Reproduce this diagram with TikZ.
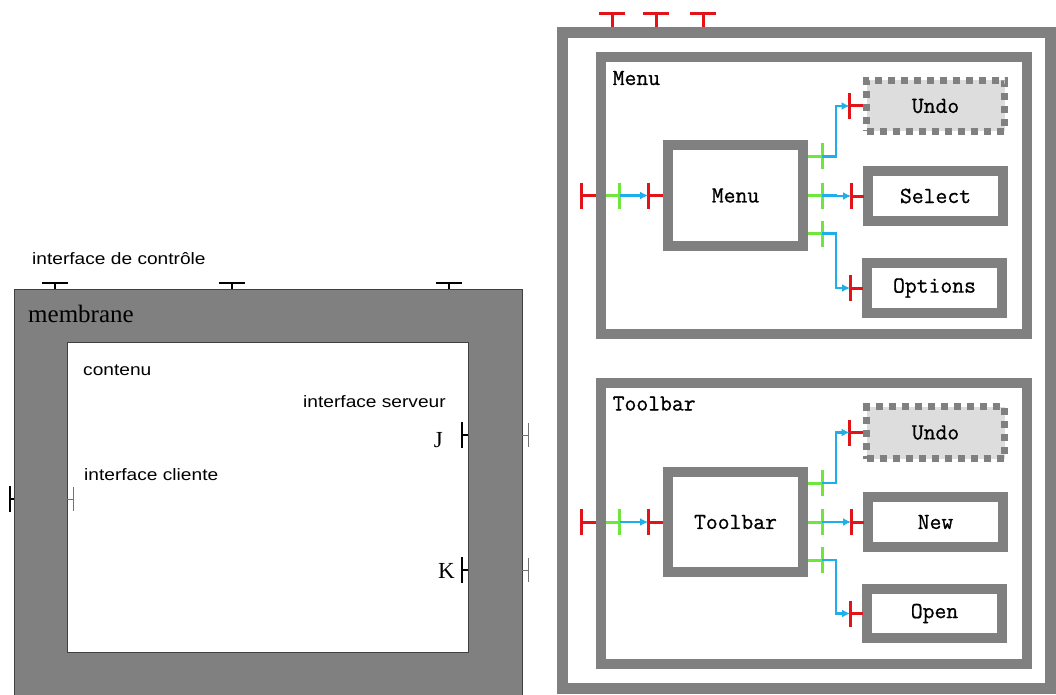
\documentclass[tikz,border=0pt]{standalone}
\usepackage{fontspec}
\setmainfont{Liberation Serif}
\setmonofont[FakeBold=0.8]{Latin Modern Mono}
\newfontfamily\annotfont[FakeStretch=1.16]{Liberation Sans}
\usetikzlibrary{arrows.meta,positioning,calc}
\definecolor{framegray}{RGB}{128,128,128}
\definecolor{undogray}{RGB}{221,221,221}
\definecolor{portred}{RGB}{225,20,25}
\definecolor{portgreen}{RGB}{110,230,60}
\definecolor{bindblue}{RGB}{30,175,235}

\begin{document}
\begin{tikzpicture}[
        x=1pt, y=-1pt,
        annot/.style={font=\annotfont\fontsize{16.5}{18}\selectfont, anchor=base west, inner sep=0pt},
        portname/.style={font=\fontsize{23}{25}\selectfont, anchor=base east, inner sep=0pt},
        panelname/.style={font=\ttfamily\fontsize{23}{25}\selectfont, anchor=base west, inner sep=0pt},
        membrane/.style={draw=black!75, line width=1pt, fill=framegray, outer sep=0pt, inner sep=0pt},
        content/.style={draw=black!75, line width=1pt, fill=white, outer sep=0pt, inner sep=0pt},
        frame/.style={draw=framegray, line width=11pt, outer sep=0pt, inner sep=0pt},
        panel/.style={draw=framegray, line width=10pt, fill=white, outer sep=0pt, inner sep=0pt},
        comp/.style={
            draw=framegray, line width=10pt, fill=white,
            minimum width=135pt, minimum height=50pt,
            outer sep=0pt, inner sep=0pt,
            font=\ttfamily\fontsize{23}{25}\selectfont
        },
        optcomp/.style={comp, fill=undogray, line width=7pt, dash pattern=on 7pt off 6pt,
            minimum width=138pt},
        cport/.style={draw=black, line width=1.6pt},
        iport/.style={draw=black!55, line width=0.9pt},
        rport/.style={draw=portred, line width=3pt},
        gport/.style={draw=portgreen, line width=3pt},
        binding/.style={draw=bindblue, line width=2.5pt, -{Latex[length=8pt,width=8pt]}}
    ]
    \useasboundingbox (0,0) rectangle (1056,695);

    % Composite on the left: membrane and content
    \node[membrane, minimum width=508pt, minimum height=411pt] (memb) at (268,494.5) {};
    \node[content, minimum width=401pt, minimum height=310pt] (cont) at (267.5,497) {};

    \node[annot] (ctrllabel) at (32,264) {interface de contrôle};
    \node[font=\fontsize{25}{27}\selectfont, anchor=base west, inner sep=0pt] (memblabel) at (28,322) {membrane};
    \node[annot] (contlabel) at (83,375) {contenu};
    \node[annot] (srvlabel) at (303,407) {interface serveur};
    \node[annot] (clilabel) at (84,480) {interface cliente};
    \node[portname] (jlabel) at (443,447) {J};
    \node[portname] (klabel) at (455,578) {K};

    % control interfaces
    \foreach \dx in {41,218,435}
        \draw[cport] ($(memb.north west)+(\dx,0)$) -- ++(0,-6) +(-13,0) -- +(13,0);

    % client interface
    \draw[cport] ($(memb.west)+(0,4.5)$) -- ++(-4,0) +(0,-13) -- +(0,13);
    \draw[iport] ($(cont.west)+(0,2)$) -- ++(6,0) +(0,-12) -- +(0,12);

    % server interfaces J and K
    \foreach \py in {435,570} {
        \draw[cport] (cont.east |- 0,\py) -- ++(-6,0) +(0,-13) -- +(0,13);
        \draw[iport] (memb.east |- 0,\py) -- ++(6,0) +(0,-12) -- +(0,12);
    }

    % Composite on the right
    \node[frame, minimum width=488pt, minimum height=656pt] (outer) at (806.5,360.5) {};
    \foreach \dx in {49.5,93.5,140.5}
        \draw[rport] ($(outer.north west)+(\dx,-5.5)$) -- ++(0,-13) +(-13,0) -- +(13,0);

    \node[panel, minimum width=426.5pt, minimum height=276.5pt] (mpanel) at (813.75,195.75) {};
    \node[panel, minimum width=426.5pt, minimum height=281pt] (tpanel) at (813.75,523.5) {};
    \node[panelname] (mlabel) at ($(mpanel.north west)+(12,27.5)$) {Menu};
    \node[panelname] (tlabel) at ($(tpanel.north west)+(12,27.5)$) {Toolbar};

    \node[comp, minimum height=101pt] (mbox) at (735.5,195.5) {Menu};
    \node[comp, minimum height=100pt] (tbox) at (735.5,522) {Toolbar};

    \node[optcomp, minimum height=51pt] (mundo) at (935.5,106) {Undo};
    \node[comp] (select) at (935.5,196) {Select};
    \node[comp] (options) at (934.5,288) {Options};

    \node[optcomp, minimum height=52pt] (tundo) at (935.5,432.5) {Undo};
    \node[comp] (new) at (935.5,522) {New};
    \node[comp, minimum height=49pt] (open) at (934.5,613.5) {Open};

    % exported interface -> inner component
    \foreach \pn/\bx in {mpanel/mbox, tpanel/tbox} {
        \path (\bx.west -| \pn.west) coordinate (pw);
        \draw[rport] ($(pw)+(-5,0)$) -- ++(-14.5,0) +(0,-13) -- +(0,13);
        \draw[gport] ($(pw)+(5,0)$) -- ++(14,0) coordinate (g) +(0,-13) -- +(0,13);
        \draw[rport] ($(\bx.west)+(-5,0)$) -- ++(-15,0) coordinate (r) +(0,-13) -- +(0,13);
        \draw[binding] (g) -- (r);
    }

    % inner component -> sub-components
    \foreach \bx/\ta/\tb/\tc in {mbox/mundo/select/options, tbox/tundo/new/open} {
        \foreach \dy/\tg in {-39/\ta, 0/\tb, 38/\tc} {
            \draw[gport] ($(\bx.east)+(5,\dy)$) -- ++(14,0) coordinate (g) +(0,-13) -- +(0,13);
            \draw[rport] ($(\tg.west)+(-4,0)$) -- ++(-13,0) coordinate (r) +(0,-13) -- +(0,13);
            \draw[binding] (g) -- ++(14,0) |- (r);
        }
    }
\end{tikzpicture}
\end{document}
